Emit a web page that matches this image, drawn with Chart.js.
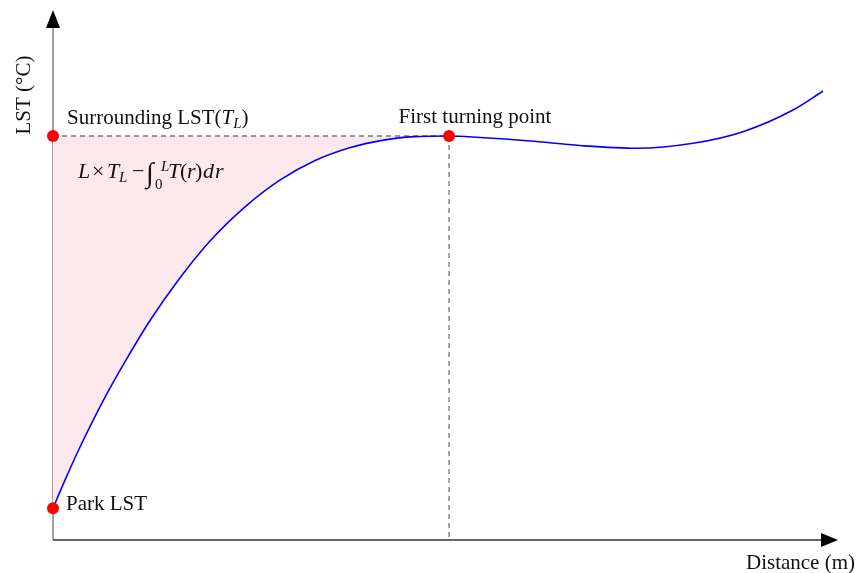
<!DOCTYPE html>
<html>
<head>
<meta charset="utf-8">
<script src="https://cdn.jsdelivr.net/npm/chart.js@4.4.1/dist/chart.umd.min.js"></script>
<style>
  html, body { margin: 0; padding: 0; background: #fff; }
  #wrap { width: 857px; height: 573px; }
</style>
</head>
<body>
<div id="wrap"><canvas id="lstChart" width="857" height="573"></canvas></div>
<script>
// distance from park edge (arbitrary units) and LST (arbitrary units)
const distance = [0, 1.5, 3.4, 6.4, 9.2, 12.4, 16.0, 20.0, 24.5, 28.9, 33.4, 37.8, 42.3, 46.1, 50.45, 54.39, 60.76, 67.13, 74.36, 81.53, 87.9, 94.27, 98.09];
const lst = [6.0, 11.2, 17.4, 26.3, 33.7, 41.5, 49.1, 56.4, 62.9, 67.9, 71.6, 74.0, 75.5, 76.1, 76.23, 75.94, 75.28, 74.43, 73.91, 74.85, 77.04, 81.13, 84.72];

const turnIndex = 14;           // first turning point
const parkLST = lst[0];
const surroundLST = lst[turnIndex];
const turnX = distance[turnIndex];

const curve = distance.map((x, i) => ({ x: x, y: lst[i] }));
const risingPart = curve.slice(0, turnIndex + 1);

const SERIF = '"Liberation Serif", "Times New Roman", serif';

// axes with arrow heads
const axesPlugin = {
  id: "arrowAxes",
  beforeDatasetsDraw(chart) {
    const ctx = chart.ctx;
    const a = chart.chartArea;
    const xs = chart.scales.x, ys = chart.scales.y;
    const x0 = xs.getPixelForValue(0);
    const y0 = ys.getPixelForValue(0);
    ctx.save();
    ctx.lineWidth = 1.5;
    ctx.strokeStyle = "#808080";
    ctx.beginPath();
    ctx.moveTo(x0, y0);
    ctx.lineTo(x0, a.top + 10);
    ctx.stroke();
    ctx.strokeStyle = "#333";
    ctx.beginPath();
    ctx.moveTo(x0, y0);
    ctx.lineTo(a.right - 10, y0);
    ctx.stroke();
    ctx.fillStyle = "#000";
    ctx.beginPath();
    ctx.moveTo(x0, a.top);
    ctx.lineTo(x0 - 7, a.top + 18);
    ctx.lineTo(x0 + 7, a.top + 18);
    ctx.closePath();
    ctx.fill();
    ctx.beginPath();
    ctx.moveTo(a.right, y0);
    ctx.lineTo(a.right - 17, y0 - 7);
    ctx.lineTo(a.right - 17, y0 + 7);
    ctx.closePath();
    ctx.fill();
    ctx.restore();
  }
};

// draw a run of [text, style] pieces left to right
function drawRun(ctx, x, y, parts) {
  parts.forEach((p) => {
    ctx.font = p.font;
    ctx.fillText(p.t, x, y + (p.dy || 0));
    x += ctx.measureText(p.t).width + (p.gap || 0);
  });
  return x;
}

const labelsPlugin = {
  id: "labels",
  afterDraw(chart) {
    const ctx = chart.ctx;
    const xs = chart.scales.x, ys = chart.scales.y;
    const x0 = xs.getPixelForValue(0);
    const yTL = ys.getPixelForValue(surroundLST);
    const yPark = ys.getPixelForValue(parkLST);
    const xTurn = xs.getPixelForValue(turnX);
    const reg = "21px " + SERIF;
    const ita = "italic 21px " + SERIF;
    const sub = "italic 15px " + SERIF;
    ctx.save();
    ctx.fillStyle = "#111";
    ctx.textBaseline = "alphabetic";
    ctx.textAlign = "left";

    drawRun(ctx, x0 + 14, yTL - 12, [
      { t: "Surrounding LST(", font: reg },
      { t: "T", font: ita },
      { t: "L", font: sub, dy: 4 },
      { t: ")", font: reg }
    ]);

    ctx.font = reg;
    ctx.textAlign = "center";
    ctx.fillText("First turning point", xTurn + 26, yTL - 13);
    ctx.textAlign = "left";
    ctx.fillText("Park LST", x0 + 13, yPark + 2);

    // area formula, each piece placed at an offset from the formula start
    const fx = x0 + 25, fy = yTL + 42;
    const f22 = "22px " + SERIF, i22 = "italic 22px " + SERIF;
    [
      { t: "L", font: i22, at: 0 },
      { t: "×", font: f22, at: 14 },
      { t: "T", font: i22, at: 29 },
      { t: "L", font: sub, at: 41, dy: 4 },
      { t: "−", font: f22, at: 54 },
      { t: "∫", font: "italic 28px " + SERIF, at: 68, dy: 4 },
      { t: "0", font: "15px " + SERIF, at: 77, dy: 11 },
      { t: "L", font: sub, at: 83, dy: -7 },
      { t: "T", font: i22, at: 90 },
      { t: "(", font: f22, at: 102 },
      { t: "r", font: i22, at: 109 },
      { t: ")", font: f22, at: 117 },
      { t: "d", font: i22, at: 125 },
      { t: "r", font: i22, at: 137 }
    ].forEach((p) => {
      ctx.font = p.font;
      ctx.fillText(p.t, fx + p.at, fy + (p.dy || 0));
    });

    ctx.font = reg;
    ctx.textAlign = "right";
    ctx.fillText("Distance (m)", 855, 569);

    ctx.translate(24, 95);
    ctx.rotate(-Math.PI / 2);
    ctx.textAlign = "center";
    ctx.textBaseline = "middle";
    ctx.fillText("LST (°C)", 0, 0);
    ctx.restore();
  }
};

new Chart(document.getElementById("lstChart"), {
  type: "scatter",
  data: {
    datasets: [
      {
        data: [{ x: 0, y: parkLST }, { x: 0, y: surroundLST }, { x: turnX, y: surroundLST }],
        pointRadius: 6,
        pointBackgroundColor: "#ff0000",
        pointBorderWidth: 0,
        showLine: false,
        clip: false,
        order: 0
      },
      {
        data: curve,
        showLine: true,
        borderColor: "#0000ff",
        borderWidth: 1.6,
        pointRadius: 0,
        cubicInterpolationMode: "monotone",
        fill: false,
        order: 1
      },
      {
        data: [{ x: 0, y: surroundLST }, { x: turnX, y: surroundLST }],
        showLine: true,
        borderColor: "#777",
        borderWidth: 1.3,
        borderDash: [5, 4],
        pointRadius: 0,
        order: 2
      },
      {
        data: [{ x: turnX, y: surroundLST }, { x: turnX, y: 0 }],
        showLine: true,
        borderColor: "#777",
        borderWidth: 1.3,
        borderDash: [5, 4],
        pointRadius: 0,
        order: 2
      },
      {
        data: risingPart,
        showLine: true,
        borderWidth: 0,
        borderColor: "rgba(0,0,0,0)",
        backgroundColor: "#fde8ed",
        pointRadius: 0,
        cubicInterpolationMode: "monotone",
        fill: { value: surroundLST },
        order: 3
      }
    ]
  },
  options: {
    responsive: false,
    animation: false,
    layout: { padding: { left: 53, right: 19, top: 10, bottom: 33 } },
    plugins: { legend: { display: false }, tooltip: { enabled: false } },
    scales: {
      x: { type: "linear", min: 0, max: 100, display: false },
      y: { type: "linear", min: 0, max: 100, display: false }
    }
  },
  plugins: [axesPlugin, labelsPlugin]
});
</script>
</body>
</html>
